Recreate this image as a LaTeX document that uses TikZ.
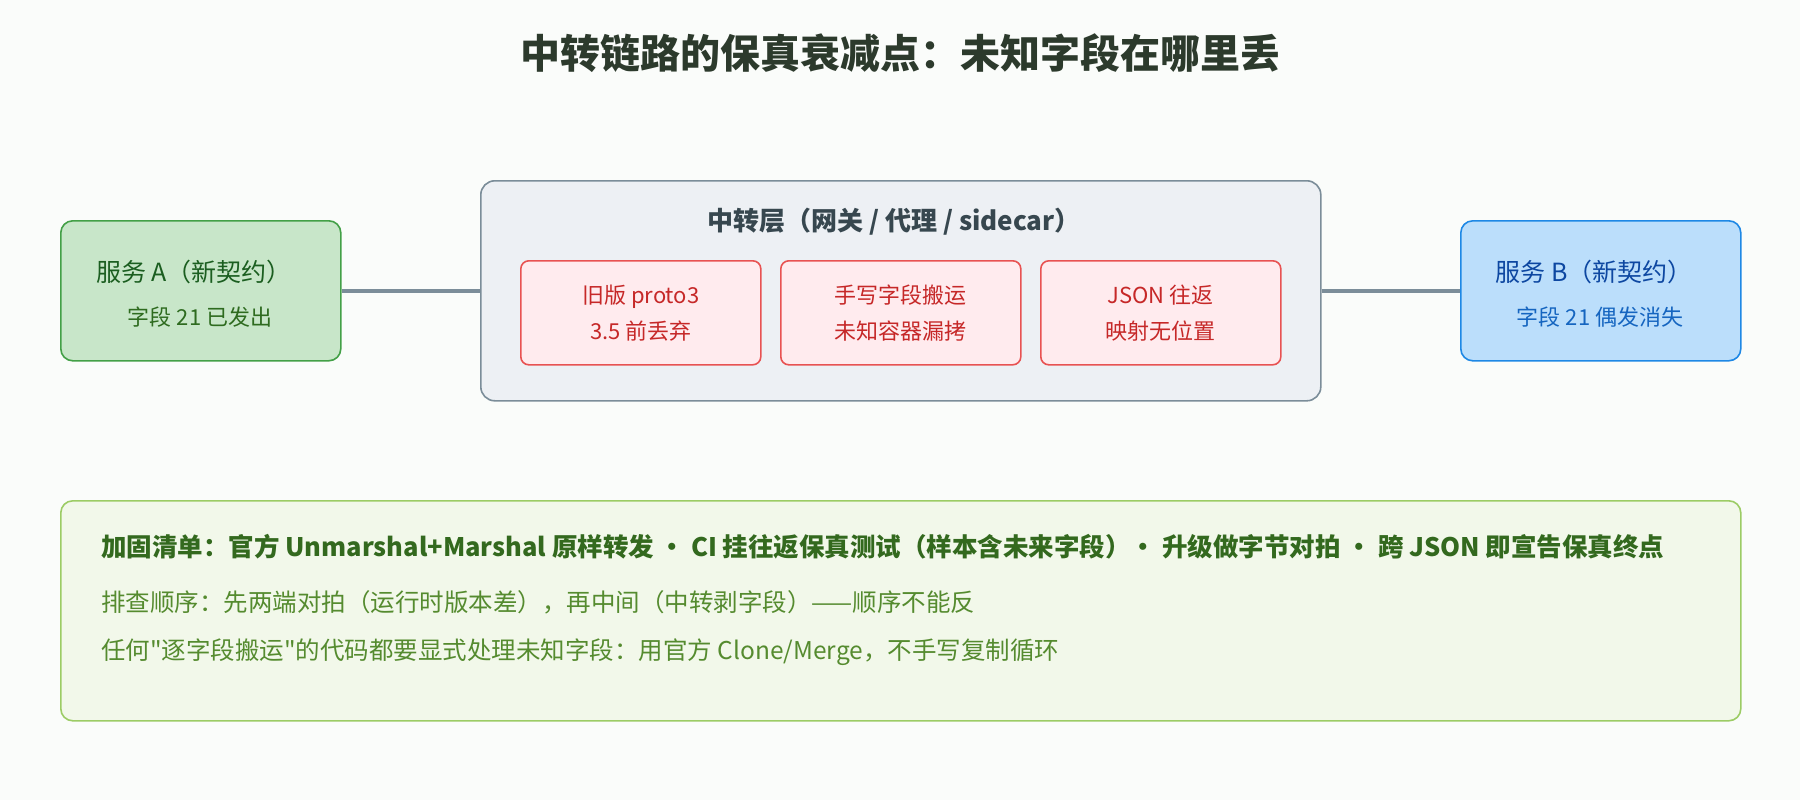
\documentclass[tikz,border=0pt]{standalone}
\usepackage{fontspec}
\setmainfont{Noto Sans CJK SC}[Ligatures=TeXOff]
\begin{document}
\begin{tikzpicture}[x=1pt,y=-1pt,
  box/.style={draw, rounded corners=12pt, line width=1.6pt, inner sep=0pt, anchor=north west},
  inbox/.style={draw=boxred, fill=fillred, rounded corners=8pt, line width=1.6pt, minimum width=240pt, minimum height=104pt, inner sep=0pt, anchor=north west, text=txtred, font=\fontsize{22}{36}\selectfont, align=center},
  conn/.style={draw=connc, line width=4pt},
  lbl/.style={inner sep=0pt, anchor=center}
]
\definecolor{bg}{HTML}{FAFCFA}
\definecolor{titlec}{HTML}{2C3A2C}
\definecolor{boxred}{HTML}{E85252}
\definecolor{fillred}{HTML}{FFEBEE}
\definecolor{txtred}{HTML}{C62828}
\definecolor{connc}{HTML}{7B8D99}
\definecolor{greenfill}{HTML}{C8E6C9}
\definecolor{greendraw}{HTML}{43A047}
\definecolor{greentxt}{HTML}{1B5E20}
\definecolor{greentxtb}{HTML}{2E6B1F}
\definecolor{bluefill}{HTML}{BBDEFB}
\definecolor{bluedraw}{HTML}{1E88E5}
\definecolor{bluetxt}{HTML}{0D47A1}
\definecolor{bluetxtb}{HTML}{1565C0}
\definecolor{midfill}{HTML}{EDF0F4}
\definecolor{middraw}{HTML}{7B8D99}
\definecolor{midtxt}{HTML}{37474F}
\definecolor{botfill}{HTML}{F2F8EA}
\definecolor{botdraw}{HTML}{9CCC65}
\definecolor{bottxt}{HTML}{33691E}
\definecolor{bottxtb}{HTML}{558B2F}

\fill[bg] (0,0) rectangle (1800,800);
\useasboundingbox (0,0) rectangle (1800,800);

\node[lbl, text=titlec, font=\fontsize{40}{48}\selectfont\bfseries] (title) at (900,53) {中转链路的保真衰减点：未知字段在哪里丢};

% service A
\node[box, draw=greendraw, fill=greenfill, minimum width=280pt, minimum height=140pt] (A) at (60,220) {};
\node[lbl, text=greentxt, font=\fontsize{25}{28}\selectfont] (A1) at (194,272) {服务 A（新契约）};
\node[lbl, text=greentxtb, font=\fontsize{22}{24}\selectfont] (A2) at (200,317) {字段 21 已发出};

% middle
\node[box, draw=middraw, fill=midfill, rounded corners=14pt, minimum width=840pt, minimum height=220pt] (M) at (480,180) {};
\node[lbl, text=midtxt, font=\fontsize{26}{28}\selectfont\bfseries] (Mt) at (894,222) {中转层（网关 / 代理 / sidecar）};
\node[inbox] (I1) at (520,260) {旧版 proto3\\3.5 前丢弃};
\node[inbox] (I2) at (780,260) {手写字段搬运\\未知容器漏拷};
\node[inbox] (I3) at (1040,260) {JSON 往返\\映射无位置};

% service B
\node[box, draw=bluedraw, fill=bluefill, minimum width=280pt, minimum height=140pt] (B) at (1460,220) {};
\node[lbl, text=bluetxt, font=\fontsize{25}{28}\selectfont] (B1) at (1594,272) {服务 B（新契约）};
\node[lbl, text=bluetxtb, font=\fontsize{22}{24}\selectfont] (B2) at (1600,317) {字段 21 偶发消失};

\draw[conn] (A.east) -- (A.east -| M.west);
\draw[conn] (M.east |- B.west) -- (B.west);

% bottom
\node[box, draw=botdraw, fill=botfill, minimum width=1680pt, minimum height=220pt] (C) at (60,500) {};
\node[inner sep=0pt, anchor=west, text=bottxt, font=\fontsize{25.5}{28}\selectfont\bfseries] (C1) at (101,547) {加固清单：官方 Unmarshal+Marshal 原样转发 • CI 挂往返保真测试（样本含未来字段）• 升级做字节对拍 • 跨 JSON 即宣告保真终点};
\node[inner sep=0pt, anchor=west, text=bottxtb, font=\fontsize{24.5}{28}\selectfont] (C2) at (101,602) {排查顺序：先两端对拍（运行时版本差），再中间（中转剥字段）——顺序不能反};
\node[inner sep=0pt, anchor=west, text=bottxtb, font=\fontsize{24.5}{28}\selectfont] (C3) at (101,652) {任何"逐字段搬运"的代码都要显式处理未知字段：用官方 Clone/Merge，不手写复制循环};
\end{tikzpicture}
\end{document}
